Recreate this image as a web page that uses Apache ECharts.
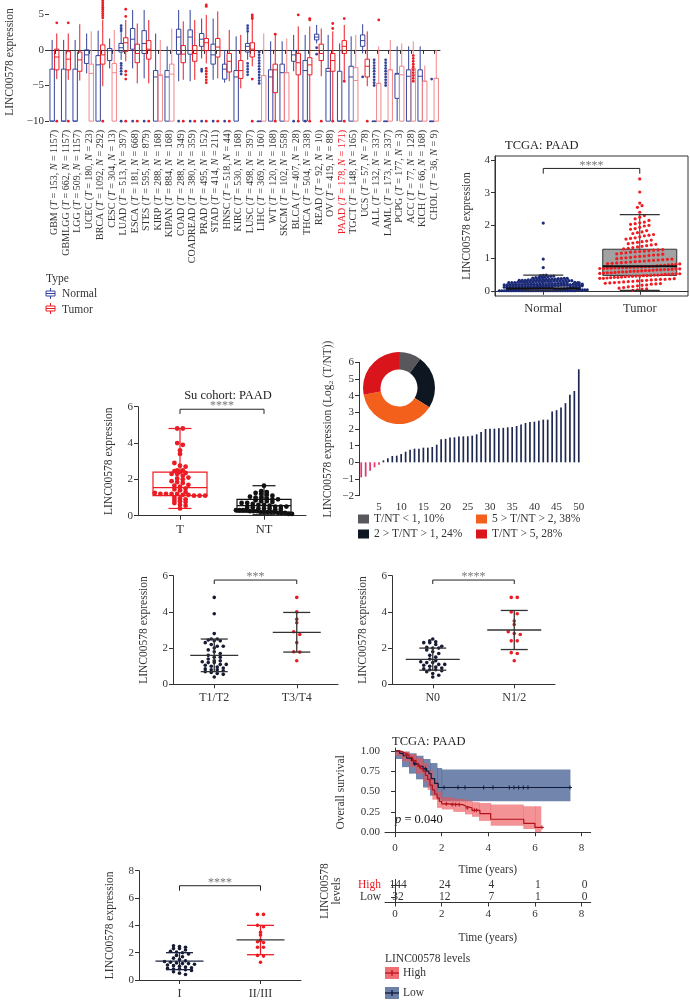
<!DOCTYPE html>
<html><head><meta charset="utf-8">
<script src="https://cdn.jsdelivr.net/npm/echarts@6/dist/echarts.min.js"></script>
<style>html,body{margin:0;padding:0;background:#fff}#c{width:690px;height:1000px}</style>
</head><body><div id="c"></div><script>
// ---------------- DATA ----------------
// Panel A: pan-cancer
const panCats = ['GBM','GBMLGG','LGG','UCEC','BRCA','CESC','LUAD','ESCA','STES','KIRP','KIPAN','COAD','COADREAD','PRAD','STAD','HNSC','KIRC','LUSC','LIHC','WT','SKCM','BLCA','THCA','READ','OV','PAAD','TGCT','UCS','ALL','LAML','PCPG','ACC','KICH','CHOL'];
const panT = [153,662,509,180,1092,304,513,181,595,288,884,288,380,495,414,518,530,498,369,120,102,407,504,92,419,178,148,57,132,173,177,77,66,36];
const panN = [1157,1157,1157,23,292,13,397,668,879,168,168,349,359,152,211,44,168,397,160,168,558,28,338,10,88,171,165,78,337,337,3,128,168,9];
// [lowWhisker, q1, median, q3, highWhisker]
const panNormalBox = [
[-10,-10,-10,-2.7,1.4],[-10,-10,-10,-2.7,1.4],[-10,-10,-10,-2.7,1.4],[-3.3,-1.9,-0.7,0,2.3],[-10,-10,-2.1,-0.8,2.7],
[-2.6,-1.5,-0.1,0.2,1.6],[-1.4,-0.3,0.3,0.9,2.6],[-2.6,0.1,1.5,3.0,5.6],[-4.0,-0.5,0.9,2.7,5.6],[-10,-10,-3.8,-2.9,2.3],
[-10,-10,-3.8,-2.9,0.5],[-4.4,-0.6,1.8,2.9,5.6],[-4.4,-0.6,1.8,2.8,5.6],[-1.2,0.5,1.5,2.3,4.4],[-4.2,-2.0,-0.7,0.8,4.4],
[-4.6,-4.1,-2.7,-2.0,0],[-10,-10,-3.8,-2.9,1.9],[-1.4,-0.3,0.5,0.9,2.6],[-10,-10,-10,-10,-10],[-10,-10,-3.8,-2.8,1.2],
[-10,-10,-3.2,-2.0,1.2],[-3.0,-1.6,-0.7,-0.1,2.1],[-10,-10,-2.9,-1.5,2.1],[0.9,1.4,1.8,2.2,3.5],[-10,-10,-3.0,-2.6,2.1],
[-10,-10,-10,-3.0,0.9],[-10,-10,-3.8,-2.3,1.9],[-0.5,0.5,1.3,2.1,3.6],[-10,-10,-10,-10,-10],[-10,-10,-10,-10,-10],
[-10,-6.8,-3.4,-3.3,0.5],[-10,-10,-3.7,-2.8,0.5],[-10,-10,-3.7,-2.8,0.5],[-10,-10,-10,-10,-10]];
const panTumorBox = [
[-4.1,-2.8,-1.0,0.1,2.3],[-4.2,-2.8,-1.3,-0.2,2.3],[-4.3,-3.0,-1.4,-0.3,3.6],[-10,-10,-3.3,-2.0,2.6],[-5.1,-2.0,-0.7,0.7,4.2],
[-10,-10,-3.2,-1.9,2.8],[-1.6,-0.2,1.0,1.7,4.2],[-4.7,-1.8,-0.5,0.8,3.7],[-4.7,-1.3,0.1,1.3,4.2],[-10,-10,-3.6,-3.5,1.4],
[-10,-10,-3.4,-2.0,3.0],[-4.2,-1.8,-0.6,0.6,4.0],[-4.2,-1.6,-0.5,0.6,4.2],[-1.9,-0.1,1.0,1.6,4.9],[-4.0,-1.0,0.4,1.6,5.4],
[-4.4,-3.1,-1.6,-0.5,2.8],[-5.4,-4.0,-2.9,-1.5,2.1],[-2.3,-1.0,0.1,1.0,4.4],[-10,-10,-3.6,-3.6,2.3],[-10,-6.0,-2.8,-2.0,2.1],
[-10,-10,-3.2,-3.2,1.6],[-10,-3.5,-1.8,-0.5,3.3],[-10,-3.5,-2.1,-1.1,3.3],[-3.7,-1.5,-0.5,0.8,3.0],[-10,-3.0,-1.5,-0.5,2.6],
[-4.2,-0.5,0.5,1.3,3.5],[-10,-10,-4.3,-2.5,2.1],[-5.1,-3.8,-2.3,-1.3,2.6],[-10,-10,-4.7,-4.7,0.5],[-10,-10,-2.8,-2.8,1.4],
[-10,-10,-3.5,-2.3,0.9],[-10,-10,-3.5,-2.6,1.2],[-10,-10,-4.4,-4.4,-2.2],[-10,-10,-4.0,-4.0,0]];
const panNormalOut = [[],[],[],[],[],[],[3.4,3.0,2.7,-1.9,-2.2,-2.6,-3.0,-3.4,-10],[-10],[-10],[],[],[-10],[-10],[-2.7,-3.0,-10],[-10],[-10],[],
[3.4,3.0,2.6,-1.9,-2.3,-2.7,-3.1,-3.5],[-0.3,-0.7,-1.1,-1.5,-1.9,-2.3,-2.7,-3.1,-3.5,-3.9,-4.3,-4.7],[],[],[-10],[-10],[0.3,-0.6],[],[],[],[-3.8],
[-1.4,-1.8,-2.2,-2.6,-3.0,-3.4,-3.8,-4.2,-4.6,-5.0],[-1.4,-1.8,-2.2,-2.6,-3.0,-3.4,-3.8,-4.2,-4.6,-5.0],[],[],[],[-4.1]];
const panTumorOut = [[3.8,-10],[3.8,-10],[],[],[4.5,4.8,5.1,5.4,5.7,6.0,6.3,6.6,6.9,-10],[],[5.7,4.7,-3.0,-3.5,-4.1,-10],[-10],[-10],[],[],[-10],[-10],
[6.3,6.1,-2.6,-3.0,-3.4,-3.8,-4.2,-4.6,-10],[-10],[-10],[],[4.9,4.6,4.4,-4.1,-10],[],[2.2,-10],[],[4.9,-10],[4.4,4.2,-10],[-10],[3.7,3.0,-10],
[4.4,-4.4,-10],[],[-10],[4.2],[],[],[-0.8,-1.2,-1.6,-2.0,-2.4,-2.8,-3.2,-3.6,-4.0,-4.4],[],[]];
const panYTicks = [-10,-5,0,5];

// Panel B: TCGA PAAD
const bCats = ['Normal','Tumor'];
const bNormalBox = [0,0,0.07,0.18,0.48];
const bTumorBox = [0.01,0.47,0.75,1.27,2.33];
const bNormalVals = [0,0,0,0,0,0,0,0,0,0,0,0,0,0,0,0,0,0,0,0,0,0,0,0,0,0,0,0,0,0,0,0,
0.04,0.05,0.05,0.06,0.06,0.07,0.07,0.08,0.08,0.09,0.09,0.1,0.1,0.1,0.1,0.1,0.11,0.11,0.11,0.12,0.12,0.12,0.12,0.13,0.13,0.13,0.13,0.14,0.14,0.14,
0.15,0.15,0.16,0.16,0.16,0.17,0.17,0.17,0.18,0.18,0.18,0.18,0.19,0.19,0.19,0.2,0.2,0.2,0.2,0.2,0.21,0.21,0.21,0.22,0.22,0.22,0.23,0.23,0.24,0.24,
0.25,0.25,0.25,0.26,0.26,0.26,0.27,0.27,0.27,0.28,0.28,0.28,0.29,0.29,0.29,0.3,0.3,0.3,0.3,0.31,0.31,0.31,0.32,0.32,0.32,0.33,0.33,0.33,0.34,0.34,
0.35,0.35,0.35,0.36,0.36,0.37,0.37,0.38,0.38,0.39,0.4,0.4,0.41,0.42,0.43,0.44,0.45,0.46,0.47,0.48,
0.02,0.02,0.03,0.03,0.03,0.04,0.04,0.05,0.06,0.07,0.08,0.09,0.1,0.11,0.12,0.15,0.17,0.19,0.2,0.22,0.24,0.26,0.1,0.15,0.2,0.25,
0.71,0.97,2.07];
const bTumorVals = [0.01,0.03,0.05,0.06,0.08,0.1,0.12,0.13,0.15,0.17,0.18,0.2,
0.21,0.22,0.23,0.24,0.25,0.26,0.27,0.28,0.29,0.3,0.31,0.32,0.33,0.34,0.35,0.35,0.36,0.37,0.38,0.38,0.39,0.4,0.41,0.41,0.42,0.43,0.44,0.44,0.45,0.45,0.46,0.46,
0.47,0.48,0.48,0.49,0.5,0.5,0.51,0.52,0.52,0.53,0.54,0.55,0.55,0.56,0.57,0.58,0.58,0.59,0.6,0.6,0.61,0.62,0.62,0.63,0.64,0.64,0.65,0.65,0.66,0.67,0.67,0.68,0.68,0.69,0.69,0.7,0.7,0.71,0.71,0.72,0.72,0.73,0.73,0.74,0.74,
0.75,0.76,0.77,0.78,0.79,0.8,0.81,0.82,0.83,0.84,0.85,0.86,0.87,0.88,0.89,0.9,0.91,0.92,0.93,0.94,0.95,0.96,0.97,0.98,1.0,1.01,1.02,1.04,1.05,1.06,1.08,1.09,1.1,1.12,1.13,1.15,1.16,1.18,1.19,1.2,1.21,1.22,1.24,1.25,1.26,
1.28,1.3,1.32,1.34,1.36,1.38,1.4,1.42,1.44,1.46,1.48,1.5,1.52,1.55,1.58,1.6,1.62,1.65,1.68,1.7,1.72,1.75,1.78,1.8,1.84,1.88,1.9,1.94,1.98,2.0,2.03,2.05,2.08,2.1,2.15,2.2,2.25,2.3,
2.4,2.55,2.6,2.68,3.02,3.42];

// Panel C: Su cohort
const cCats = ['T','NT'];
const cTBox = [0.4,1.1,1.55,2.4,4.8];
const cNTBox = [0.05,0.2,0.55,0.9,1.65];
const cTVals = [4.8,4.8,4.0,3.9,3.6,3.4,2.9,2.75,2.7,2.5,2.5,2.45,2.4,2.35,2.3,2.3,2.2,2.1,2.05,2.0,1.9,1.85,1.8,1.7,1.65,1.6,1.5,1.45,1.4,1.3,1.25,1.2,1.2,1.2,1.2,1.15,1.15,1.1,1.1,1.1,1.0,0.95,0.9,0.85,0.8,0.75,0.7,0.6,0.55,0.4];
const cNTVals = [1.65,1.35,1.3,1.25,1.2,1.15,1.1,1.05,1.0,1.0,0.95,0.9,0.9,0.85,0.8,0.8,0.75,0.7,0.7,0.65,0.6,0.6,0.55,0.5,0.5,0.5,0.45,0.45,0.4,0.4,0.4,0.35,0.35,0.3,0.3,0.3,0.3,0.25,0.25,0.25,0.2,0.2,0.2,0.2,0.2,0.15,0.15,0.15,0.1,0.1];

// Panel D: log2 ratio per patient + donut
const dPatients = ['1','2','3','4','5','6','7','8','9','10','11','12','13','14','15','16','17','18','19','20','21','22','23','24','25','26','27','28','29','30','31','32','33','34','35','36','37','38','39','40','41','42','43','44','45','46','47','48','49','50'];
const dLog2 = [-0.9,-0.85,-0.5,-0.3,-0.15,0.12,0.24,0.38,0.4,0.5,0.64,0.76,0.82,0.82,0.88,0.88,0.92,1.06,1.39,1.41,1.49,1.5,1.55,1.56,1.56,1.6,1.68,1.82,2.0,2.01,2.02,2.04,2.07,2.1,2.12,2.18,2.27,2.36,2.42,2.44,2.5,2.56,2.56,3.05,3.13,3.29,3.55,4.05,4.28,5.58];
const donutNames = ['T/NT < 1, 10%','2 > T/NT > 1, 24%','5 > T/NT > 2, 38%','T/NT > 5, 28%'];
const donutValues = [10,24,38,28];

// Panel E/F/G: clinical groups
const eCats = ['T1/T2','T3/T4'];
const eLowVals = [4.8,3.9,2.8,2.5,2.5,2.45,2.4,2.4,2.3,2.2,2.1,2.1,2.0,1.9,1.8,1.7,1.6,1.5,1.5,1.4,1.3,1.3,1.25,1.2,1.2,1.1,1.1,1.05,1.0,0.95,0.9,0.85,0.8,0.8,0.75,0.7,0.65,0.6,0.55,0.4];
const eHighVals = [4.8,4.0,3.6,3.4,2.9,2.75,2.3,1.8,1.78,1.3];
const eStats = [[1.6,0.7,2.5],[2.87,1.78,3.97]]; // mean, mean-SD, mean+SD
const fCats = ['N0','N1/2'];
const fLowVals = [2.5,2.4,2.35,2.3,2.3,2.2,2.1,2.05,2.0,2.0,1.9,1.8,1.7,1.6,1.5,1.4,1.3,1.25,1.2,1.2,1.1,1.1,1.05,1.0,0.95,0.9,0.85,0.8,0.8,0.75,0.7,0.6,0.5,0.4];
const fHighVals = [4.8,4.8,4.0,3.9,3.5,3.3,2.9,2.8,2.75,2.4,2.4,1.75,1.7,1.3];
const fStats = [[1.38,0.78,2.0],[3.0,1.92,4.08]];
const gCats = ['I','II/III'];
const gLowVals = [2.5,2.45,2.4,2.3,2.3,2.2,2.1,2.05,2.0,1.9,1.8,1.7,1.6,1.5,1.4,1.35,1.3,1.25,1.2,1.2,1.15,1.1,1.05,1.0,0.95,0.9,0.85,0.8,0.8,0.75,0.7,0.6,0.5,0.4];
const gHighVals = [4.8,4.8,4.0,3.9,3.5,3.3,2.9,2.8,2.75,2.4,2.4,1.8,1.75,1.3];
const gStats = [[1.38,0.76,2.0],[2.93,1.85,4.0]];

// Panel H: Kaplan-Meier
const kmHigh = [[0,1],[0.15,0.99],[0.3,0.97],[0.45,0.95],[0.6,0.92],[0.75,0.88],[0.9,0.84],[1.0,0.81],[1.1,0.78],[1.2,0.75],[1.3,0.7],[1.4,0.65],[1.5,0.58],[1.6,0.52],[1.7,0.47],[1.8,0.42],[1.9,0.38],[2.0,0.35],[2.3,0.34],[2.9,0.32],[3.05,0.3],[3.3,0.27],[3.64,0.23],[4.1,0.16],[5.52,0.11],[6.0,0.06],[6.3,0.06]];
const kmLow = [[0,1],[0.2,0.97],[0.35,0.94],[0.5,0.91],[0.7,0.88],[0.8,0.84],[1.0,0.81],[1.2,0.78],[1.35,0.75],[1.45,0.72],[1.55,0.66],[1.7,0.6],[1.85,0.55],[7.5,0.55]];
const kmHighBand = [[0,0.3,0.94,1.0],[0.3,0.6,0.87,0.99],[0.6,0.9,0.8,0.96],[0.9,1.2,0.72,0.91],[1.2,1.4,0.62,0.85],[1.4,1.6,0.52,0.76],[1.6,1.8,0.4,0.64],[1.8,2.0,0.3,0.5],[2.0,2.5,0.28,0.43],[2.5,3.0,0.25,0.41],[3.0,3.3,0.22,0.39],[3.3,3.6,0.19,0.37],[3.6,4.1,0.14,0.36],[4.1,5.5,0.08,0.34],[5.5,6.0,0.04,0.32],[6.0,6.25,0.0,0.32]];
const kmLowBand = [[0,0.3,0.9,1.0],[0.3,0.6,0.8,0.99],[0.6,0.9,0.72,0.97],[0.9,1.2,0.65,0.94],[1.2,1.5,0.55,0.9],[1.5,1.8,0.45,0.85],[1.8,2.0,0.4,0.79],[2.0,7.5,0.38,0.77]];
const kmHighCensor = [[0.5,0.95],[0.8,0.88],[1.05,0.81],[2.2,0.35],[2.45,0.34],[2.6,0.34],[2.75,0.34],[3.1,0.3],[3.4,0.27],[3.5,0.27],[6.3,0.06]];
const kmLowCensor = [[0.85,0.84],[1.3,0.78],[2.1,0.55],[2.7,0.55],[3.0,0.55],[3.8,0.55],[4.2,0.55],[4.9,0.55],[5.1,0.55],[5.3,0.55],[5.5,0.55],[5.7,0.55],[7.5,0.55]];
const riskTimes = [0,2,4,6,8];
const riskHigh = [144,24,4,1,0];
const riskLow = [32,12,7,1,0];
const riskGroups = ['Low','High'];

// ---------------- STYLE / HELPERS ----------------
const F = 'Liberation Serif';
const TXT = '#333';
const BLUE = '#34449a', RED = '#ec1c24', PALE = '#f3878a';
const DARK = '#161b33';

function merge(a, b) {
  for (const k in b) {
    if (b[k] && typeof b[k] === 'object' && !Array.isArray(b[k]) && a[k] && typeof a[k] === 'object' && !Array.isArray(a[k])) merge(a[k], b[k]);
    else a[k] = b[k];
  }
  return a;
}
function fmtNum(v){ return v < 0 ? '\u2212' + (-v) : String(v); }
function axisBase(gi, extra) {
  return merge({gridIndex: gi, splitLine: {show: false},
    axisLine: {show: true, lineStyle: {color: TXT, width: 1}},
    axisTick: {show: true, length: 4, lineStyle: {color: TXT}},
    axisLabel: {fontFamily: F, fontSize: 11, color: TXT, margin: 5},
    nameLocation: 'middle', nameTextStyle: {fontFamily: F, fontSize: 11.5, color: TXT}}, extra);
}
function customTicks(vals, fmt) {
  return {axisLabel: {customValues: vals, formatter: v => vals.some(t => Math.abs(t - v) < 1e-6) ? fmt(v) : ''},
          axisTick: {customValues: vals}};
}
function swarm(vals, bin, spacing, maxHalf) {
  const groups = new Map();
  vals.forEach((v, i) => { const k = Math.round(v / bin); if (!groups.has(k)) groups.set(k, []); groups.get(k).push(i); });
  const off = new Array(vals.length).fill(0);
  groups.forEach(idx => {
    const n = idx.length;
    const s = n > 1 ? Math.min(spacing, 2 * maxHalf / (n - 1)) : 0;
    idx.forEach((i, k) => { off[i] = (k - (n - 1) / 2) * s; });
  });
  return off;
}
function dotSeries(gi, cat, vals, color, r, bin, spacing, maxHalf, z) {
  const off = swarm(vals, bin, spacing, maxHalf);
  return {type: 'custom', xAxisIndex: gi, yAxisIndex: gi, silent: true, z: z || 3,
    data: vals.map((v, i) => [cat, v, off[i]]),
    renderItem: (p, api) => {
      const c = api.coord([api.value(0), api.value(1)]);
      return {type: 'circle', shape: {cx: c[0] + api.value(2), cy: c[1], r: r}, style: {fill: color}};
    }};
}
function bracketSeries(gi, yBar, yDrop, label) {
  return {type: 'custom', xAxisIndex: gi, yAxisIndex: gi, silent: true, z: 5,
    data: [[0, yBar, yDrop]],
    renderItem: (p, api) => {
      const a = api.coord([0, api.value(1)]), b = api.coord([1, api.value(1)]);
      const d = api.coord([0, api.value(2)])[1];
      return {type: 'group', children: [
        {type: 'polyline', shape: {points: [[a[0], d], [a[0], a[1]], [b[0], b[1]], [b[0], d]]}, style: {stroke: '#222', lineWidth: 1, fill: 'none'}},
        {type: 'text', style: {text: label, x: (a[0] + b[0]) / 2, y: a[1] + 3, align: 'center', verticalAlign: 'bottom', textAlign: 'center', textVerticalAlign: 'bottom', fill: '#777', fontFamily: F, fontSize: 12}}
      ]};
    }};
}
function meanSdSeries(gi, stats, meanW, capW, colors, sdColors) {
  return {type: 'custom', xAxisIndex: gi, yAxisIndex: gi, silent: true, z: 4,
    data: stats.map((s, i) => [i, s[0], s[1], s[2]]),
    encode: {x: 0, y: [1, 2, 3]},
    renderItem: (p, api) => {
      const ci = api.value(0);
      const x = api.coord([ci, 0])[0];
      const m = api.coord([ci, api.value(1)])[1], lo = api.coord([ci, api.value(2)])[1], hi = api.coord([ci, api.value(3)])[1];
      const mc = colors[ci], sc = sdColors[ci];
      const st = c => ({stroke: c, lineWidth: 1.3});
      return {type: 'group', children: [
        {type: 'line', shape: {x1: x, y1: lo, x2: x, y2: hi}, style: st(sc)},
        {type: 'line', shape: {x1: x - capW / 2, y1: lo, x2: x + capW / 2, y2: lo}, style: st(sc)},
        {type: 'line', shape: {x1: x - capW / 2, y1: hi, x2: x + capW / 2, y2: hi}, style: st(sc)},
        {type: 'line', shape: {x1: x - meanW / 2, y1: m, x2: x + meanW / 2, y2: m}, style: st(mc)}
      ]};
    }};
}
function panBox(off, color, pale) {
  return (p, api) => {
    const ci = api.value(0);
    const v = [1, 2, 3, 4, 5].map(k => api.value(k));
    const x = api.coord([ci, 0])[0] + off;
    const Y = v.map(val => api.coord([ci, val])[1]);
    const c = (pale && v[1] <= -10) ? pale : color;
    const w = 4.4;
    const st = {stroke: c, lineWidth: 1, fill: 'none'};
    return {type: 'group', children: [
      {type: 'line', shape: {x1: x, y1: Y[0], x2: x, y2: Y[1]}, style: st},
      {type: 'line', shape: {x1: x, y1: Y[3], x2: x, y2: Y[4]}, style: st},
      {type: 'rect', shape: {x: x - w / 2, y: Y[3], width: w, height: Math.max(Y[1] - Y[3], 0.5)}, style: st},
      {type: 'line', shape: {x1: x - w / 2, y1: Y[2], x2: x + w / 2, y2: Y[2]}, style: st}
    ]};
  };
}
function outSeries(list, off, color) {
  const data = [];
  list.forEach((arr, i) => arr.forEach(v => data.push([i, v])));
  return {type: 'custom', xAxisIndex: 0, yAxisIndex: 0, silent: true, z: 3, data: data,
    renderItem: (p, api) => {
      const c = api.coord([api.value(0), api.value(1)]);
      return {type: 'circle', shape: {cx: c[0] + off, cy: c[1], r: 1.4}, style: {fill: color}};
    }};
}
function simpleBox(gi, boxes, colors, boxW, capW, fills, z) {
  return {type: 'custom', xAxisIndex: gi, yAxisIndex: gi, silent: true, z: z || 2,
    data: boxes.map((b, i) => [i].concat(b)), encode: {x: 0, y: [1, 2, 3, 4, 5]},
    renderItem: (p, api) => {
      const ci = api.value(0);
      const x = api.coord([ci, 0])[0];
      const Y = [1, 2, 3, 4, 5].map(k => api.coord([ci, api.value(k)])[1]);
      const c = colors[ci];
      const st = {stroke: c, lineWidth: 1.2, fill: 'none'};
      return {type: 'group', children: [
        {type: 'line', shape: {x1: x, y1: Y[0], x2: x, y2: Y[1]}, style: st},
        {type: 'line', shape: {x1: x, y1: Y[3], x2: x, y2: Y[4]}, style: st},
        {type: 'line', shape: {x1: x - capW / 2, y1: Y[0], x2: x + capW / 2, y2: Y[0]}, style: st},
        {type: 'line', shape: {x1: x - capW / 2, y1: Y[4], x2: x + capW / 2, y2: Y[4]}, style: st},
        {type: 'rect', shape: {x: x - boxW / 2, y: Y[3], width: boxW, height: Y[1] - Y[3]}, style: {stroke: c, lineWidth: 1.2, fill: fills ? fills[ci] : 'none'}},
        {type: 'line', shape: {x1: x - boxW / 2, y1: Y[2], x2: x + boxW / 2, y2: Y[2]}, style: st}
      ]};
    }};
}

// ---------------- GRIDS ----------------
const grids = [
  {left: 49, top: 0, width: 391, height: 124},          // 0 A
  {left: 495, top: 156, width: 193, height: 140, show: true, borderColor: TXT, borderWidth: 1, backgroundColor: 'transparent'}, // 1 B
  {left: 138, top: 406.7, width: 168, height: 109},     // 2 C
  {left: 359, top: 362.3, width: 222, height: 133.4},   // 3 D
  {left: 173, top: 575.7, width: 165, height: 108.6},   // 4 E
  {left: 392, top: 575.7, width: 163, height: 108.6},   // 5 F
  {left: 385, top: 748, width: 205.7, height: 88.7},    // 6 KM
  {left: 385, top: 879.5, width: 205.7, height: 23},    // 7 risk
  {left: 139, top: 870.7, width: 162, height: 109.3}    // 8 G
].map(g => Object.assign({outerBoundsMode: 'none', containLabel: false}, g));

const catLabel = (gi, data, extra) => axisBase(gi, merge({type: 'category', data: data, axisTick: {alignWithLabel: true}, axisLabel: {fontSize: 12, margin: 6, interval: 0}}, extra || {}));

const xAxes = [
  catLabel(0, panCats, {axisLabel: {rotate: 90, interval: 0, margin: 6,
    formatter: (val, idx) => { const p = val === 'PAAD' ? 'r' : ''; return '{' + p + 'n|' + val + ' (}{' + p + 'i|T}{' + p + 'n| = ' + panT[idx] + ', }{' + p + 'i|N}{' + p + 'n| = ' + panN[idx] + ')}'; },
    rich: {n: {fontFamily: F, fontSize: 10, color: TXT}, i: {fontFamily: F, fontSize: 10, color: TXT, fontStyle: 'italic'},
           rn: {fontFamily: F, fontSize: 10, color: RED}, ri: {fontFamily: F, fontSize: 10, color: RED, fontStyle: 'italic'}}}}),
  catLabel(1, bCats, {axisLabel: {fontSize: 12.5}}),
  catLabel(2, cCats, {axisLabel: {fontSize: 12.5, margin: 8}}),
  axisBase(3, {type: 'category', data: dPatients, position: 'bottom',
    axisLine: {show: true, onZero: true, lineStyle: {color: 'rgba(0,0,0,0)'}}, axisTick: {show: false},
    axisLabel: {interval: (i) => (i + 1) % 5 === 0, margin: 6, fontSize: 11}}),
  catLabel(4, eCats, {axisLabel: {fontSize: 12, margin: 8}}),
  catLabel(5, fCats, {axisLabel: {fontSize: 12, margin: 8}}),
  merge(axisBase(6, {type: 'value', min: -0.43, max: 8.39, name: 'Time (years)', nameGap: 27, axisLabel: {margin: 6}}), customTicks(riskTimes, v => String(v))),
  merge(axisBase(7, {type: 'value', min: -0.43, max: 8.39, name: 'Time (years)', nameGap: 29, axisLabel: {margin: 6}}), customTicks(riskTimes, v => String(v))),
  catLabel(8, gCats, {axisLabel: {fontSize: 12, margin: 8}})
];
const yAxes = [
  merge(axisBase(0, {type: 'value', min: -10.4, max: 7, axisLine: {show: false}, name: 'LINC00578 expression', nameGap: 33}), customTicks(panYTicks, fmtNum)),
  merge(axisBase(1, {type: 'value', min: -0.16, max: 4.12, name: 'LINC00578 expression', nameGap: 22}), customTicks([0, 1, 2, 3, 4], v => String(v))),
  axisBase(2, {type: 'value', min: 0, max: 6, interval: 2, name: 'LINC00578 expression', nameGap: 23}),
  axisBase(3, {type: 'value', min: -2, max: 6, interval: 1, name: 'LINC00578 expression (Log\u2082 (T/NT))', nameGap: 25, axisLabel: {formatter: fmtNum}}),
  axisBase(4, {type: 'value', min: 0, max: 6, interval: 2, name: 'LINC00578 expression', nameGap: 23}),
  axisBase(5, {type: 'value', min: 0, max: 6, interval: 2, name: 'LINC00578 expression', nameGap: 23}),
  merge(axisBase(6, {type: 'value', min: -0.054, max: 1.035, name: 'Overall survival', nameGap: 38}), customTicks([0, 0.25, 0.5, 0.75, 1], v => v.toFixed(2))),
  axisBase(7, {type: 'category', data: riskGroups, axisTick: {alignWithLabel: true}, name: 'LINC00578\nlevels', nameGap: 42,
    axisLabel: {fontSize: 11.5, interval: 0, margin: 4, color: (v) => v === 'High' ? RED : TXT}}),
  axisBase(8, {type: 'value', min: 0, max: 8, interval: 2, name: 'LINC00578 expression', nameGap: 23})
];

// ---------------- SERIES ----------------
const series = [];
// A
series.push({type: 'custom', name: 'Normal', xAxisIndex: 0, yAxisIndex: 0, silent: true, z: 2,
  data: panNormalBox.map((b, i) => [i].concat(b)), encode: {x: 0, y: [1, 2, 3, 4, 5]}, renderItem: panBox(-2.6, BLUE, null)});
series.push({type: 'custom', name: 'Tumor', xAxisIndex: 0, yAxisIndex: 0, silent: true, z: 2,
  data: panTumorBox.map((b, i) => [i].concat(b)), encode: {x: 0, y: [1, 2, 3, 4, 5]}, renderItem: panBox(2.0, RED, PALE)});
series.push(outSeries(panNormalOut, -2.6, BLUE));
series.push(outSeries(panTumorOut, 2.0, RED));

// B
series.push({type: 'custom', xAxisIndex: 1, yAxisIndex: 1, silent: true, z: 1,
  data: [[0].concat(bNormalBox), [1].concat(bTumorBox)], encode: {x: 0, y: [1, 2, 3, 4, 5]},
  renderItem: (p, api) => {
    const ci = api.value(0); const x = api.coord([ci, 0])[0];
    const Y = [1, 2, 3, 4, 5].map(k => api.coord([ci, api.value(k)])[1]);
    const w = 74;
    return {type: 'group', children: [
      {type: 'line', shape: {x1: x, y1: Y[0], x2: x, y2: Y[4]}, style: {stroke: '#333', lineWidth: 1}},
      {type: 'rect', shape: {x: x - w / 2, y: Y[3], width: w, height: Math.max(Y[1] - Y[3], 1)}, style: {fill: '#a2a2a2', stroke: '#333', lineWidth: 1}}
    ]};
  }});
series.push(dotSeries(1, 0, bNormalVals, '#1b2a78', 1.6, 0.07, 3.0, 44, 2));
series.push(dotSeries(1, 1, bTumorVals, '#f01c22', 1.6, 0.15, 4.6, 40, 2));
series.push({type: 'custom', xAxisIndex: 1, yAxisIndex: 1, silent: true, z: 4,
  data: [[0].concat(bNormalBox), [1].concat(bTumorBox)], encode: {x: 0, y: [1, 2, 3, 4, 5]},
  renderItem: (p, api) => {
    const ci = api.value(0); const x = api.coord([ci, 0])[0];
    const Y = [1, 2, 3, 4, 5].map(k => api.coord([ci, api.value(k)])[1]);
    const w = 74, cw = 40;
    const st = {stroke: '#333', lineWidth: 1.2};
    return {type: 'group', children: [
      {type: 'line', shape: {x1: x - cw / 2, y1: Y[4], x2: x + cw / 2, y2: Y[4]}, style: st},
      {type: 'line', shape: {x1: x - cw / 2, y1: Y[0], x2: x + cw / 2, y2: Y[0]}, style: st},
      {type: 'line', shape: {x1: x - w / 2, y1: Y[2], x2: x + w / 2, y2: Y[2]}, style: {stroke: '#111', lineWidth: 2}}
    ]};
  }});
series.push(bracketSeries(1, 3.74, 3.58, '****'));

// C
series.push(simpleBox(2, [cTBox, cNTBox], [RED, '#111'], 54, 23, null, 2));
series.push(dotSeries(2, 0, cTVals, RED, 2.4, 0.2, 5.6, 28, 3));
series.push(dotSeries(2, 1, cNTVals, '#111', 2.4, 0.2, 5.6, 28, 3));
series.push(bracketSeries(2, 5.86, 5.6, '****'));

// D
series.push({type: 'bar', xAxisIndex: 3, yAxisIndex: 3, data: dLog2, barWidth: 1.7, silent: true,
  itemStyle: {color: (p) => p.value < 0 ? '#e5336a' : '#1f2850'}});
series.push({type: 'pie', center: [399, 388], radius: [18.5, 36], startAngle: 90, clockwise: true, silent: true,
  label: {show: false}, labelLine: {show: false}, itemStyle: {borderWidth: 0},
  data: donutNames.map((n, i) => ({name: n, value: donutValues[i]})),
  color: ['#58585c', '#0e1622', '#f2601c', '#d9141a']});

// E
series.push(dotSeries(4, 0, eLowVals, DARK, 1.8, 0.2, 6, 24, 3));
series.push(dotSeries(4, 1, eHighVals, RED, 1.8, 0.2, 6, 24, 3));
series.push(meanSdSeries(4, eStats, 48, 27, ['#333', '#333'], ['#333', '#333']));
series.push(bracketSeries(4, 5.76, 5.54, '***'));
// F
series.push(dotSeries(5, 0, fLowVals, DARK, 1.8, 0.2, 6, 24, 3));
series.push(dotSeries(5, 1, fHighVals, RED, 1.8, 0.2, 6, 24, 3));
series.push(meanSdSeries(5, fStats, 54, 27, ['#333', '#333'], ['#333', '#333']));
series.push(bracketSeries(5, 5.76, 5.54, '****'));
// G
series.push(dotSeries(8, 0, gLowVals, DARK, 1.8, 0.25, 6, 24, 3));
series.push(dotSeries(8, 1, gHighVals, RED, 1.8, 0.25, 6, 24, 3));
series.push(meanSdSeries(8, gStats, 48, 27, ['#1c2340', '#333'], ['#1c2340', RED]));
series.push(bracketSeries(8, 6.9, 6.54, '****'));

// H: KM bands, curves, censors
function bandSeries(data, color, z) {
  return {type: 'custom', xAxisIndex: 6, yAxisIndex: 6, silent: true, z: z, data: data, encode: {x: [0, 1], y: [2, 3]},
    renderItem: (p, api) => {
      const a = api.coord([api.value(0), api.value(3)]), b = api.coord([api.value(1), api.value(2)]);
      return {type: 'rect', shape: {x: a[0], y: a[1], width: b[0] - a[0] + 0.5, height: b[1] - a[1]}, style: {fill: color}};
    }};
}
series.push(bandSeries(kmLowBand, 'rgba(60,86,140,0.72)', 1));
series.push(bandSeries(kmHighBand, 'rgba(236,80,86,0.62)', 1));
series.push({type: 'line', xAxisIndex: 6, yAxisIndex: 6, step: 'end', data: kmLow, symbol: 'none', silent: true, z: 3,
  lineStyle: {color: '#0d1a3c', width: 1.2}});
series.push({type: 'line', xAxisIndex: 6, yAxisIndex: 6, step: 'end', data: kmHigh, symbol: 'none', silent: true, z: 3,
  lineStyle: {color: '#b3121b', width: 1.2}});
function censorSeries(data, color) {
  return {type: 'custom', xAxisIndex: 6, yAxisIndex: 6, silent: true, z: 4, data: data,
    renderItem: (p, api) => {
      const c = api.coord([api.value(0), api.value(1)]);
      return {type: 'group', children: [
        {type: 'line', shape: {x1: c[0] - 2, y1: c[1], x2: c[0] + 2, y2: c[1]}, style: {stroke: color, lineWidth: 1}},
        {type: 'line', shape: {x1: c[0], y1: c[1] - 2, x2: c[0], y2: c[1] + 2}, style: {stroke: color, lineWidth: 1}}
      ]};
    }};
}
series.push(censorSeries(kmLowCensor, '#0d1a3c'));
series.push(censorSeries(kmHighCensor, '#b3121b'));
// risk table
const riskData = [];
riskTimes.forEach((t, i) => { riskData.push([t, 1, riskHigh[i]]); riskData.push([t, 0, riskLow[i]]); });
series.push({type: 'custom', xAxisIndex: 7, yAxisIndex: 7, silent: true, z: 3, data: riskData,
  renderItem: (p, api) => {
    const c = api.coord([api.value(0), api.value(1)]);
    return {type: 'text', style: {text: String(api.value(2)), x: c[0] + 3, y: c[1], align: 'center', verticalAlign: 'middle', textAlign: 'center', textVerticalAlign: 'middle', fill: TXT, fontFamily: F, fontSize: 11.5}};
  }});

// ---------------- TITLES / LEGENDS / ANNOTATIONS ----------------
const tStyle = {fontFamily: F, fontWeight: 'normal', fontSize: 12.5, color: '#222'};
const titles = [
  {text: 'TCGA: PAAD', left: 500, top: 134, textStyle: tStyle},
  {text: 'Su cohort: PAAD', left: 223, top: 384, textAlign: 'center', textStyle: tStyle},
  {text: 'TCGA: PAAD', left: 387, top: 730, textStyle: tStyle}
];
const lgText = {fontFamily: F, fontSize: 11.5, color: TXT};
const legends = [
  {name: donutNames[0], left: 358, top: 513}, {name: donutNames[2], left: 476, top: 513},
  {name: donutNames[1], left: 358, top: 528}, {name: donutNames[3], left: 476, top: 528}
].map(l => ({data: [l.name], left: l.left, top: l.top, icon: 'rect', itemWidth: 11, itemHeight: 9, itemGap: 0, selectedMode: false, textStyle: lgText, padding: 0}));

function boxIcon(x, y, c) {
  return [
    {type: 'line', shape: {x1: x + 4.5, y1: y - 2, x2: x + 4.5, y2: y + 9}, style: {stroke: c, lineWidth: 1}},
    {type: 'rect', shape: {x: x, y: y + 1, width: 9, height: 5}, style: {fill: '#fff', stroke: c, lineWidth: 1}},
    {type: 'line', shape: {x1: x, y1: y + 3.5, x2: x + 9, y2: y + 3.5}, style: {stroke: c, lineWidth: 1}}
  ];
}
function kmIcon(x, y, fill, c) {
  return [
    {type: 'rect', shape: {x: x, y: y, width: 14, height: 12}, style: {fill: fill}},
    {type: 'line', shape: {x1: x, y1: y + 6, x2: x + 14, y2: y + 6}, style: {stroke: c, lineWidth: 1.3}},
    {type: 'line', shape: {x1: x + 7, y1: y + 3, x2: x + 7, y2: y + 9}, style: {stroke: c, lineWidth: 1.3}}
  ];
}
const gText = (x, y, t, extra) => ({type: 'text', x: x, y: y, style: Object.assign({text: t, fill: TXT, fontFamily: F, fontSize: 11.5}, extra || {})});
const graphics = [
  gText(46, 273, 'Type'),
  ...boxIcon(46, 290, BLUE), gText(62, 288, 'Normal'),
  ...boxIcon(46, 305, RED), gText(62, 304, 'Tumor'),
  {type: 'text', x: 395, y: 813, style: {text: '{i|p}{n| = 0.040}', rich: {i: {fontFamily: F, fontSize: 12.5, fontStyle: 'italic', fill: '#111', color: '#111'}, n: {fontFamily: F, fontSize: 12.5, fill: '#111', color: '#111'}}}},
  gText(385, 953, 'LINC00578 levels'),
  ...kmIcon(385, 967, '#ee6f74', '#c0141c'), gText(403, 967, 'High'),
  ...kmIcon(385, 987, '#6d80a8', '#0d1a3c'), gText(403, 987, 'Low')
];

const chart = echarts.init(document.getElementById('c'), null, {renderer: 'canvas'});
chart.setOption({
  animation: false,
  backgroundColor: '#fff',
  textStyle: {fontFamily: F},
  title: titles,
  legend: legends,
  grid: grids,
  xAxis: xAxes,
  yAxis: yAxes,
  series: series,
  graphic: graphics
});
</script></body></html>
